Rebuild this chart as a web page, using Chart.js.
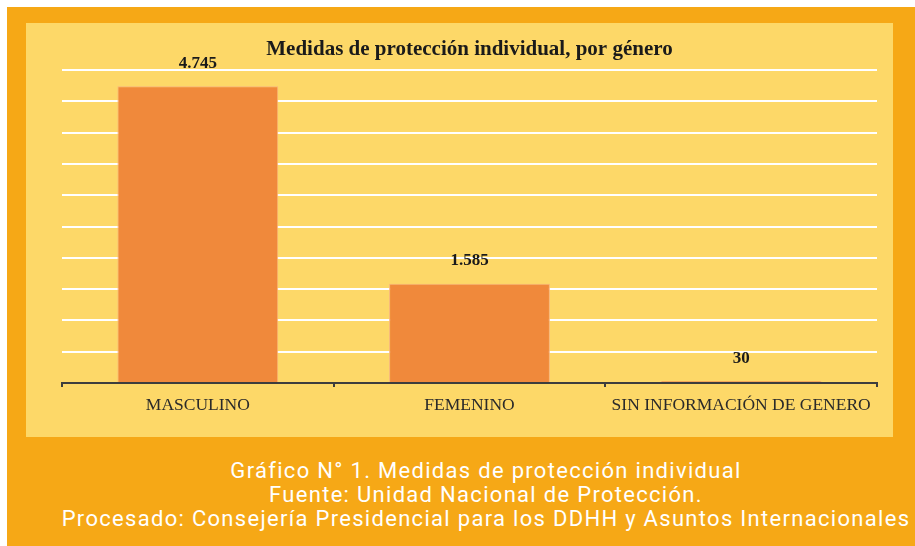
<!DOCTYPE html>
<html>
<head>
<meta charset="utf-8">
<script src="https://cdn.jsdelivr.net/npm/chart.js@4"></script>
<style>
    html, body { margin: 0; padding: 0; background: #ffffff; }
    body { width: 915px; height: 546px; position: relative; overflow: hidden; }
    .marco {
        position: absolute; left: 7px; top: 7px; width: 908px; height: 539px;
        background: #F6A816;
    }
    .panel {
        position: absolute; left: 26px; top: 23px; width: 867px; height: 414px;
        background: #FDD868;
    }
    .panel canvas { display: block; }
    .pie {
        position: absolute; left: 50px; width: 872px; top: 459px;
        color: #ffffff; text-align: center;
        font-family: Roboto, "Noto Sans", sans-serif; font-size: 22px; line-height: 24px;
        letter-spacing: 1.3px;
    }
</style>
</head>
<body>
<div class="marco"></div>
<div class="panel"><canvas id="grafico" width="867" height="414"></canvas></div>
<div class="pie">
    Gráfico N° 1. Medidas de protección individual<br>
    Fuente: Unidad Nacional de Protección.<br>
    Procesado: Consejería Presidencial para los DDHH y Asuntos Internacionales
</div>
<script>
// datos
const categorias = ['MASCULINO', 'FEMENINO', 'SIN INFORMACIÓN DE GENERO'];
const valores = [4745, 1585, 30];
const titulo = 'Medidas de protección individual, por género';

// formato con punto de miles
function formatoMiles(n) {
    return String(n).replace(/\B(?=(\d{3})+(?!\d))/g, '.');
}

// etiquetas sobre las barras
const etiquetasPlugin = {
    id: 'etiquetas',
    afterDatasetsDraw(chart) {
        const ctx = chart.ctx;
        const meta = chart.getDatasetMeta(0);
        ctx.save();
        ctx.fillStyle = '#1a1a1a';
        ctx.font = 'bold 17px "Liberation Serif", serif';
        ctx.textAlign = 'center';
        ctx.textBaseline = 'middle';
        meta.data.forEach((bar, i) => {
            ctx.fillText(formatoMiles(valores[i]), bar.x, bar.y - 23);
        });
        ctx.restore();
    }
};

const ctx = document.getElementById('grafico').getContext('2d');
new Chart(ctx, {
    type: 'bar',
    data: {
        labels: categorias,
        datasets: [{
            data: valores,
            backgroundColor: '#F0893B',
            borderColor: '#F7B47E',
            borderWidth: 1,
            categoryPercentage: 0.8,
            barPercentage: 0.74
        }]
    },
    options: {
        responsive: false,
        animation: false,
        layout: { padding: { left: 36, right: 16, top: 14, bottom: 13 } },
        plugins: {
            legend: { display: false },
            tooltip: { enabled: false },
            title: {
                display: true,
                text: titulo,
                color: '#1a1a1a',
                font: { family: '"Liberation Serif", serif', size: 21, weight: 'bold' },
                padding: { top: 0, bottom: 8 }
            }
        },
        scales: {
            y: {
                min: 0,
                max: 5000,
                ticks: { display: false, stepSize: 500 },
                border: { display: false },
                grid: { color: '#ffffff', lineWidth: 2, drawTicks: false }
            },
            x: {
                border: { color: '#3d3d3d', width: 2 },
                grid: {
                    drawOnChartArea: false,
                    drawTicks: true,
                    tickLength: 4,
                    color: '#3d3d3d',
                    lineWidth: 2
                },
                ticks: {
                    color: '#2a2a2a',
                    padding: 8,
                    font: { family: '"Liberation Serif", serif', size: 17.5 }
                }
            }
        }
    },
    plugins: [etiquetasPlugin]
});
</script>
</body>
</html>
